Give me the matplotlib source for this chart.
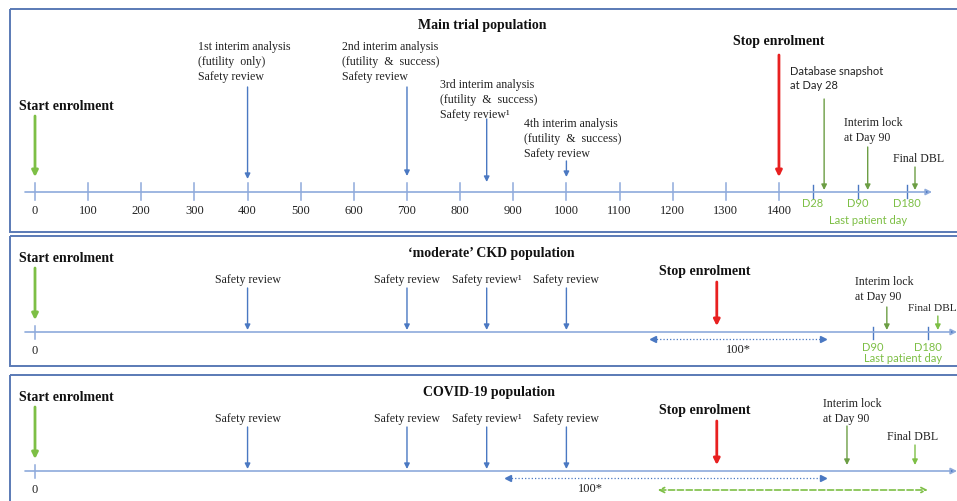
import matplotlib.pyplot as plt
from matplotlib.patches import Rectangle

# enrolment axis (number of patients) and event positions on it
main_ticks = [0, 100, 200, 300, 400, 500, 600, 700, 800, 900, 1000, 1100, 1200, 1300, 1400]
interim_x = [400, 700, 850, 1000]
interim_labels = [
    '1st interim analysis\n(futility  only)\nSafety review',
    '2nd interim analysis\n(futility  &  success)\nSafety review',
    '3rd interim analysis\n(futility  &  success)\nSafety review\u00b9',
    '4th interim analysis\n(futility  &  success)\nSafety review',
]
stop_main = 1400
followup_ticks = [1464, 1549, 1641]
followup_labels = ['D28', 'D90', 'D180']
followup_arrows = [1485, 1567, 1656]
followup_texts = ['Database snapshot\nat Day 28', 'Interim lock\nat Day 90', 'Final DBL']

safety_x = [400, 700, 850, 1000]
safety_labels = ['Safety review', 'Safety review', 'Safety review\u00b9', 'Safety review']
stop_sub = 1283
ckd_window = [1163, 1483]
ckd_ticks = [1577, 1680]
ckd_tick_labels = ['D90', 'D180']
ckd_arrows = [1603, 1699]
covid_window = [890, 1483]
covid_followup = [1172, 1680]
covid_arrows = [1528, 1656]

SERIF = 'Liberation Serif'
SANS = 'Lato'
BLUE = '#4a78c2'
BLUE_LINE = '#8eaadb'
GREEN = '#7dbf45'
DGREEN = '#6c9e44'
RED = '#e82020'
BORDER = '#5a7ab5'
TEXT = '#222222'

S = 0.5314  # pixels per patient


def px(p):
    # pixel column -> axis value (for placing text only)
    return (p - 35) / S


fig = plt.figure(figsize=(9.57, 5.02), dpi=100)
ax = fig.add_axes([0, 0, 1, 1])
ax.set_xlim(px(0), px(957))
ax.set_ylim(502, 0)
ax.axis('off')

# panel frames
for top, bottom in [(10, 233), (237, 367), (376, 520)]:
    ax.add_patch(Rectangle((px(10), top), px(965) - px(10), bottom - top,
                           fill=False, ec=BORDER, lw=1.4, clip_on=False))


def arrow(x, y0, y1, color, lw=1.0, ms=8):
    ax.annotate('', xy=(x, y1), xytext=(x, y0), annotation_clip=False,
                arrowprops=dict(arrowstyle='-|>', color=color, lw=lw,
                                mutation_scale=ms, shrinkA=0, shrinkB=0))


def timeline(y, x_end):
    ax.annotate('', xy=(x_end, y), xytext=(px(25), y), annotation_clip=False,
                arrowprops=dict(arrowstyle='-|>', color=BLUE_LINE, lw=1.2,
                                mutation_scale=9, shrinkA=0, shrinkB=0, fc=BLUE))


def bold(x, y, s, ha='left'):
    ax.text(x, y, s, fontsize=10, fontweight='bold', family=SERIF,
            ha=ha, va='center', color='#111111')


# ---- Main trial population ----
ax.text(px(482), 25, 'Main trial population', fontsize=10, fontweight='bold',
        family=SERIF, ha='center', va='center', color='#111111')
timeline(193, px(932))
for t in main_ticks:
    ax.plot([t, t], [184, 201], color=BLUE_LINE, lw=1.1)
    ax.text(t, 211, str(t), fontsize=9, family=SERIF, ha='center', va='center', color=TEXT)
for t, lab in zip(followup_ticks, followup_labels):
    ax.plot([t, t], [186, 199], color=BLUE, lw=1.0)
    ax.text(t, 204, lab, fontsize=8, family=SANS, ha='center', va='center', color=GREEN)
ax.text(px(868), 221, 'Last patient day', fontsize=8, family=SANS,
        ha='center', va='center', color=GREEN)

bold(px(19), 106, 'Start enrolment')
arrow(0, 117, 178, GREEN, lw=2, ms=9)

label_pos = [(198, 41), (342, 41), (440, 79), (524, 118)]
arrow_span = [(88, 180), (88, 177), (120, 183), (162, 178)]
for x, lab, (lx, ly), (a0, a1) in zip(interim_x, interim_labels, label_pos, arrow_span):
    ax.text(px(lx), ly, lab, fontsize=8.6, family=SERIF, ha='left', va='top',
            color=TEXT, linespacing=1.35)
    arrow(x, a0, a1, BLUE)

bold(stop_main, 42, 'Stop enrolment', ha='center')
arrow(stop_main, 56, 178, RED, lw=2, ms=9)

fu_text_pos = [(790, 66, SANS, 8, 'top'), (844, 117, SERIF, 8.6, 'top'),
               (893, 159, SERIF, 8.6, 'center')]
fu_span = [(100, 191), (148, 191), (168, 191)]
for x, lab, (lx, ly, fam, fs, va), (a0, a1) in zip(followup_arrows, followup_texts, fu_text_pos, fu_span):
    ax.text(px(lx), ly, lab, fontsize=fs, family=fam, ha='left', va=va,
            color=TEXT, linespacing=1.35)
    arrow(x, a0, a1, DGREEN)


def sub_panel(y0, title, title_x, window, window_lab_x):
    # y0: panel top in pixels
    ax.text(px(title_x), y0 + 17, title, fontsize=10, fontweight='bold',
            family=SERIF, ha='center', va='center', color='#111111')
    axis_y = y0 + 96
    timeline(axis_y, px(957))
    ax.plot([0, 0], [axis_y - 6, axis_y + 7], color=BLUE_LINE, lw=1.1)
    ax.text(0, axis_y + 18, '0', fontsize=9, family=SERIF, ha='center', va='center', color=TEXT)
    bold(px(19), y0 + 22, 'Start enrolment')
    arrow(0, y0 + 32, axis_y - 12, GREEN, lw=2, ms=9)
    for x, lab in zip(safety_x, safety_labels):
        ax.text(x, y0 + 43, lab, fontsize=8.6, family=SERIF, ha='center',
                va='center', color=TEXT)
        arrow(x, y0 + 52, axis_y - 2, BLUE)
    bold(px(705), y0 + 35, 'Stop enrolment', ha='center')
    arrow(stop_sub, y0 + 46, axis_y - 6, RED, lw=2, ms=9)
    wy = axis_y + 7
    ax.plot(window, [wy, wy], color=BLUE, lw=0.9, ls=':')
    ax.plot([window[0]], [wy], marker='<', color=BLUE, ms=4.5)
    ax.plot([window[1]], [wy], marker='>', color=BLUE, ms=4.5)
    ax.text(px(window_lab_x), axis_y + 17, '100*', fontsize=9, family=SERIF,
            ha='center', va='center', color=TEXT)
    return axis_y


# ---- 'moderate' CKD population ----
y_ckd = sub_panel(237, '\u2018moderate\u2019 CKD population', 491, ckd_window, 738)
for t, lab in zip(ckd_ticks, ckd_tick_labels):
    ax.plot([t, t], [y_ckd - 5, y_ckd + 7], color=BLUE, lw=1.0)
    ax.text(t, y_ckd + 15, lab, fontsize=8, family=SANS, ha='center', va='center', color=GREEN)
ax.text(px(903), y_ckd + 26, 'Last patient day', fontsize=8, family=SANS,
        ha='center', va='center', color=GREEN)
ax.text(px(855), 276, 'Interim lock\nat Day 90', fontsize=8.6, family=SERIF,
        ha='left', va='top', color=TEXT, linespacing=1.35)
arrow(ckd_arrows[0], 308, y_ckd - 2, DGREEN)
ax.text(px(908), 309, 'Final DBL', fontsize=8.2, family=SERIF,
        ha='left', va='center', color=TEXT)
arrow(ckd_arrows[1], 317, y_ckd - 2, GREEN)

# ---- COVID-19 population ----
y_cov = sub_panel(376, 'COVID-19 population', 489, covid_window, 590)
ax.text(px(823), 398, 'Interim lock\nat Day 90', fontsize=8.6, family=SERIF,
        ha='left', va='top', color=TEXT, linespacing=1.35)
arrow(covid_arrows[0], 427, y_cov - 6, DGREEN)
ax.text(px(887), 437, 'Final DBL', fontsize=8.6, family=SERIF,
        ha='left', va='center', color=TEXT)
arrow(covid_arrows[1], 446, y_cov - 6, GREEN)
ax.annotate('', xy=(covid_followup[1], 491), xytext=(covid_followup[0], 491),
            arrowprops=dict(arrowstyle='<->', color=GREEN, lw=1.2, ls='--',
                            mutation_scale=9, shrinkA=0, shrinkB=0))

fig.savefig('out.png', dpi=100)
